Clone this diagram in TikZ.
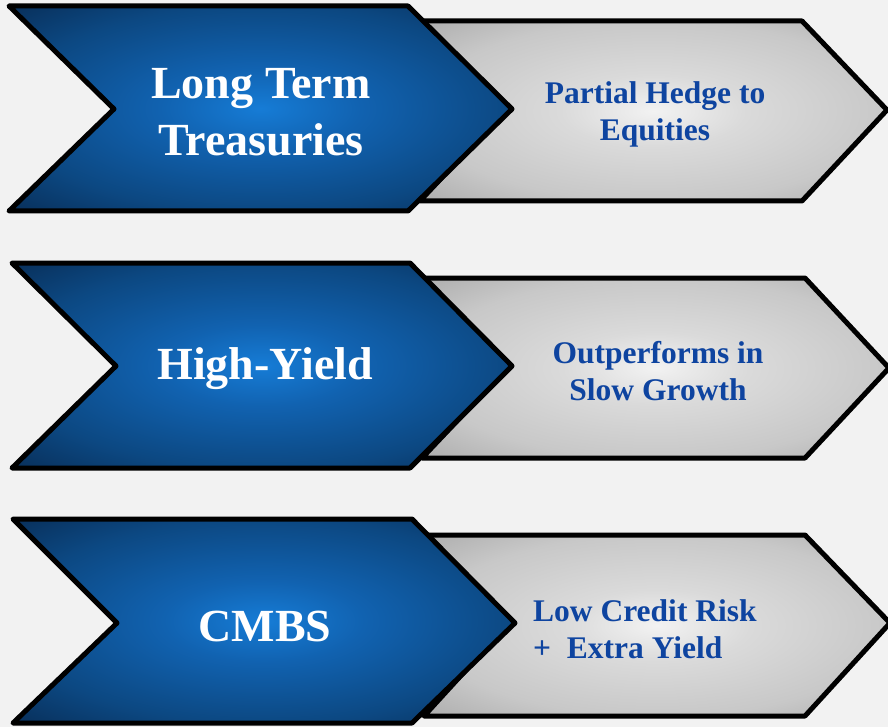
\documentclass[tikz,border=0pt]{standalone}
\usepackage{fontspec}
\setmainfont{Liberation Serif}
\definecolor{bgc}{RGB}{242,242,242}
\definecolor{bluein}{RGB}{22,124,214}
\definecolor{bluemid}{RGB}{17,98,176}
\definecolor{blueedge}{RGB}{12,72,130}
\definecolor{blueout}{RGB}{8,46,88}
\definecolor{grayin}{RGB}{242,242,242}
\definecolor{graymid}{RGB}{218,218,218}
\definecolor{grayedge}{RGB}{200,200,200}
\definecolor{grayout}{RGB}{172,172,172}
\definecolor{txtblue}{RGB}{14,68,160}
\pgfdeclareradialshading{blueshade}{\pgfpoint{0bp}{0bp}}{color(0bp)=(bluein); color(10bp)=(bluemid); color(25bp)=(blueedge); color(36bp)=(blueout); color(50bp)=(blueout)}
\pgfdeclareradialshading{grayshade}{\pgfpoint{0bp}{0bp}}{color(0bp)=(grayin); color(10bp)=(graymid); color(25bp)=(grayedge); color(36bp)=(grayout); color(50bp)=(grayout)}
\tikzset{
  bluechev/.style={draw=black, line width=5pt, line join=round, shading=blueshade},
  graychev/.style={draw=black, line width=5pt, line join=round, shading=grayshade},
  bigtxt/.style={text=white, font=\bfseries\fontsize{46}{57}\selectfont, align=center, inner sep=0pt},
  smalltxt/.style={text=txtblue, font=\bfseries\fontsize{31.5}{37}\selectfont, align=center, inner sep=0pt}
}
\begin{document}
\begin{tikzpicture}[x=1pt,y=-1pt]
\fill[bgc] (0,0) rectangle (888,727);
\useasboundingbox (0,0) rectangle (888,727);
% row 1
\path[graychev] (420,21) -- (802,21) -- (887,110) -- (802,201) -- (420,201) -- (505,110) -- cycle;
\path[bluechev] (9,6) -- (408,6) -- (512,109) -- (408,211) -- (9,211) -- (114,109) -- cycle;
\node[bigtxt] (lt) at (261,112) {Long Term\\Treasuries};
\node[smalltxt] (ph) at (655,114) {Partial Hedge to\\Equities};
% row 2
\path[graychev] (422,278) -- (805,278) -- (889,368) -- (805,458) -- (422,458) -- (507,368) -- cycle;
\path[bluechev] (12,263) -- (410,263) -- (512,366) -- (410,468) -- (12,468) -- (116,366) -- cycle;
\node[bigtxt] (hy) at (265,369) {High-Yield};
\node[smalltxt] (og) at (658,371) {Outperforms in\\Slow Growth};
% row 3
\path[graychev] (424,535) -- (805,535) -- (890,623) -- (805,716) -- (424,716) -- (509,623) -- cycle;
\path[bluechev] (13,519) -- (412,519) -- (515,623) -- (412,723) -- (13,723) -- (117,623) -- cycle;
\node[bigtxt] (cm) at (265,626) {CMBS};
\node[smalltxt, align=left, anchor=west] (lc) at (533,629) {Low Credit Risk\\+~~Extra Yield};
\end{tikzpicture}
\end{document}
